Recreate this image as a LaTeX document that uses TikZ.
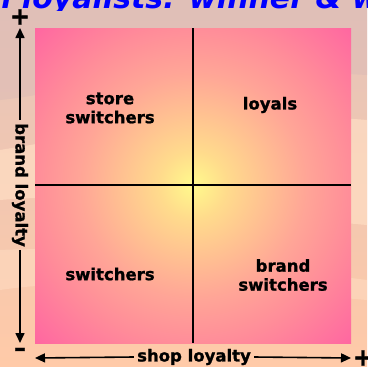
\documentclass[tikz,border=0pt]{standalone}
\usepackage{fontspec}
\setmainfont{DejaVu Sans}[BoldFeatures={FakeBold=1.2}]
\usetikzlibrary{arrows.meta}
\pgfdeclareradialshading{quadshade}{\pgfpoint{0bp}{0bp}}{rgb(0bp)=(1,0.98,0.55); rgb(3.75bp)=(1,0.86,0.55); rgb(12.5bp)=(1,0.65,0.59); rgb(17.7bp)=(1,0.55,0.6); rgb(25bp)=(1,0.4,0.63); rgb(50bp)=(1,0.4,0.63)}
\definecolor{bgtop}{RGB}{228,196,186}
\definecolor{bgbot}{RGB}{255,202,168}
\definecolor{bglight}{RGB}{255,222,196}
\definecolor{bgdark}{RGB}{222,188,182}
\definecolor{titleblue}{RGB}{0,0,255}
\begin{document}
\begin{tikzpicture}[x=1pt,y=-1pt,
  lbl/.style={font=\fontsize{16.5}{19}\selectfont\bfseries, text=black, align=center, inner sep=0pt},
  sym/.style={font=\fontsize{24}{24}\selectfont\bfseries, text=black, inner sep=0pt},
  axisline/.style={line width=1.6pt, black},
  arr/.style={line width=1.6pt, black, -{Triangle[length=10pt,width=9pt]}}]
\useasboundingbox (0,0) rectangle (367,367);
% background
\shade[top color=bgtop, bottom color=bgbot] (0,0) rectangle (367,367);
\fill[bgdark, opacity=0.6] (0,0) -- (367,0) -- (367,75) .. controls (300,72) and (250,60) .. (180,70) .. controls (100,80) and (50,95) .. (0,100) -- cycle;
\fill[bglight, opacity=0.7] (367,120) .. controls (250,110) and (120,130) .. (0,150) -- (0,200) .. controls (120,190) and (250,215) .. (367,225) -- cycle;
\fill[bglight, opacity=0.5] (0,250) .. controls (100,245) and (250,265) .. (367,280) -- (367,300) .. controls (250,290) and (100,275) .. (0,290) -- cycle;
% title fragment
\begin{scope}
\clip (0,0) rectangle (367,10);
\node[anchor=base west, text=titleblue, font=\fontsize{30}{32}\selectfont\bfseries\itshape, inner sep=0pt] (title) at (-10,8) {n loyalists: winner \& w};
\end{scope}
% quadrant square
\begin{scope}
\clip (35,28) rectangle (351,343);
\shade[shading=quadshade] (193,185) circle (224);
\end{scope}
% axes
\coordinate (vt) at (193,28);
\coordinate (vb) at (193,343);
\coordinate (hl) at (35,185);
\coordinate (hr) at (351,185);
\draw[axisline] (vt) -- (vb);
\draw[axisline] (hl) -- (hr);
% quadrant labels
\node[lbl] (ss) at (110,108) {store\\switchers};
\node[lbl] (loy) at (270,105) {loyals};
\node[lbl] (sw) at (110,274) {switchers};
\node[lbl] (bs) at (283,275) {brand\\switchers};
% left axis
\node[lbl, rotate=-90, inner xsep=3pt] (bl) at (20,185) {brand loyalty};
\coordinate (lt) at (20,28);
\coordinate (lb) at (20,343);
\draw[arr] (bl.west) -- (lt);
\draw[arr] (bl.east) -- (lb);
\node[sym] (lp) at (20,17) {+};
\node[sym] (lm) at (20,352) {\char"2013};
% bottom axis
\node[lbl, inner xsep=3pt] (sl) at (194,357) {shop loyalty};
\coordinate (bl2) at (35,358);
\coordinate (br2) at (351,358);
\draw[arr] (sl.west) -- (bl2);
\draw[arr] (sl.east) -- (br2);
\node[sym] (rp) at (363,358) {+};
\end{tikzpicture}
\end{document}
